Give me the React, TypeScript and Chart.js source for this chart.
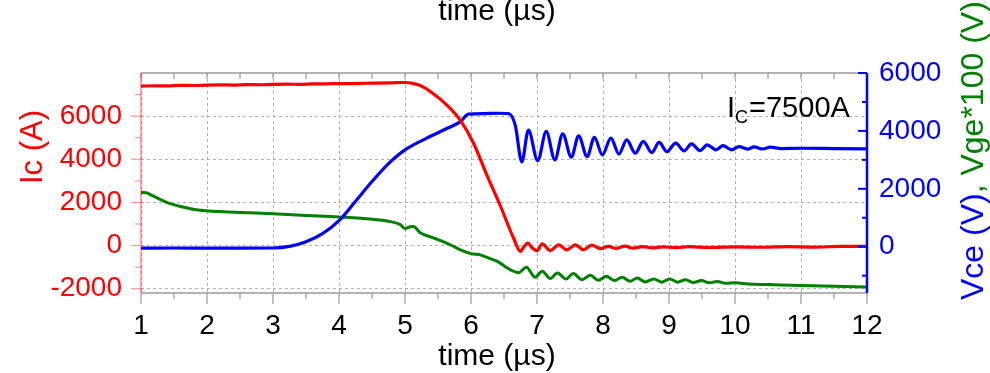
import React, { useEffect, useRef } from "react";
import { Chart, registerables } from "chart.js";

Chart.register(...registerables);

// ---- tick values ----
const xTicks = [1, 2, 3, 4, 5, 6, 7, 8, 9, 10, 11, 12];
const xMinorTicks = [1.5, 2.5, 3.5, 4.5, 5.5, 6.5, 7.5, 8.5, 9.5, 10.5, 11.5];
const icTicks = [-2000, 0, 2000, 4000, 6000];
const icMinorTicks = [-1000, 1000, 3000, 5000, 7000];
const vTicks = [0, 2000, 4000, 6000];
const vMinorTicks = [-1000, 1000, 3000, 5000];

// ---- Ic (A), left axis ----
const icTime = [
  1.0, 1.2, 1.4, 1.6, 1.8, 2.0, 2.2, 2.4, 2.6, 2.8, 3.0, 3.2, 3.4, 3.6, 3.8, 4.0, 4.2, 4.4, 4.6, 4.8,
  5.0, 5.1, 5.23, 5.43, 5.64, 5.84, 6.04, 6.24, 6.44, 6.645, 6.75,
  6.8, 6.86, 6.93, 7.0, 7.08, 7.2, 7.33, 7.45, 7.58, 7.7, 7.83, 7.96, 8.08, 8.2, 8.33, 8.46, 8.6,
  8.75, 8.9, 9.1, 9.3, 9.6, 10.0, 10.4, 10.8, 11.2, 11.6, 12.0,
];
const icValues = [
  7390, 7410, 7400, 7430, 7420, 7440, 7450, 7440, 7460, 7455, 7470, 7480, 7475, 7495, 7500, 7510, 7505, 7525, 7530, 7545,
  7560, 7530, 7420, 7040, 6500, 5800, 4730, 3270, 1880, 340, -270,
  -60, 110, -120, -240, 80, -230, 30, -200, 30, -190, 20, -140, -40, -130, -30, -120, -50,
  -110, -60, -100, -50, -90, -60, -80, -50, -70, -40, -40,
];

// ---- Vce (V), right axis ----
const vceTime = [
  1.0, 1.5, 2.0, 2.5, 3.0, 3.25, 3.5, 3.75, 4.0, 4.25, 4.5, 4.75, 5.0, 5.33, 5.64, 5.84, 5.96,
  6.2, 6.4, 6.57, 6.67, 6.77, 6.87, 7.01, 7.14, 7.27, 7.39,
  7.52, 7.63, 7.76, 7.87, 7.99, 8.12, 8.24, 8.36, 8.49, 8.61, 8.74, 8.85, 8.97, 9.1, 9.23, 9.34,
  9.47, 9.58, 9.71, 9.82, 9.95, 10.06, 10.19, 10.29, 10.42, 10.54, 10.7, 11.0, 11.5, 12.0,
];
const vceValues = [
  -50, -45, -50, -50, -45, 10, 170, 450, 900, 1570, 2250, 2870, 3345, 3750, 4090, 4320, 4580,
  4600, 4610, 4600, 4200, 2930, 4030, 2970, 3980, 3000, 3900,
  3090, 3830, 3110, 3780, 3170, 3750, 3200, 3690, 3230, 3640, 3250, 3600, 3280, 3575, 3310, 3550,
  3320, 3520, 3345, 3490, 3345, 3460, 3370, 3450, 3375, 3440, 3390, 3400, 3390, 3380,
];

// ---- Vge*100 (V), right axis ----
const vgeTime = [
  1.0, 1.08, 1.15, 1.39, 1.6, 1.9, 2.5, 3.0, 3.5, 4.0, 4.5, 4.75, 4.93, 5.0,
  5.08, 5.13, 5.23, 5.4, 5.55, 5.7, 5.85, 6.0, 6.15, 6.3, 6.4, 6.5, 6.6, 6.72, 6.84, 6.97, 7.08,
  7.2, 7.31, 7.44, 7.55, 7.68, 7.81, 7.93, 8.05, 8.17, 8.29, 8.41, 8.52, 8.64, 8.77, 8.89, 9.01,
  9.13, 9.25, 9.37, 9.49, 9.61, 9.73, 9.86, 10.0, 10.2, 10.5, 11.0, 11.5, 12.0,
];
const vgeValues = [
  1870, 1860, 1790, 1530, 1390, 1255, 1185, 1140, 1080, 1025, 950, 880, 760, 630,
  690, 700, 480, 330, 200, 50, -120, -240, -290, -420, -510, -660, -800, -900, -713, -1057, -850,
  -1100, -908, -1115, -930, -1138, -990, -1160, -1023, -1170, -1057, -1195, -1080, -1218, -1115, -1225, -1115,
  -1225, -1140, -1235, -1170, -1250, -1200, -1265, -1250, -1290, -1310, -1345, -1370, -1390,
];

const FF = "'Liberation Sans', Arial, Helvetica, sans-serif";
const RED = "#ff0000";
const BLUE = "#0000ff";
const GREEN = "#008000";

const framePlugin = {
  id: "frame",
  afterDatasetsDraw(chart: any) {
    const { ctx, chartArea: ca, scales } = chart;
    const sx = scales.x;
    const sl = scales.y;
    const sr = scales.y2;
    const line = (x1: number, y1: number, x2: number, y2: number) => {
      ctx.beginPath();
      ctx.moveTo(x1, y1);
      ctx.lineTo(x2, y2);
      ctx.stroke();
    };
    ctx.save();
    // top & bottom frame (gray)
    ctx.strokeStyle = "#9a9a9a";
    ctx.lineWidth = 1.5;
    line(ca.left, ca.top, ca.right, ca.top);
    line(ca.left, ca.bottom, ca.right, ca.bottom);
    ctx.lineWidth = 1.2;
    xTicks.forEach((v) => {
      const p = sx.getPixelForValue(v);
      line(p, ca.bottom, p, ca.bottom + 11);
      line(p, ca.top, p, ca.top + 6);
    });
    xMinorTicks.forEach((v) => {
      const p = sx.getPixelForValue(v);
      line(p, ca.bottom, p, ca.bottom + 6);
      line(p, ca.top, p, ca.top + 6);
    });
    // left axis (pale red), ticks outward
    ctx.strokeStyle = "rgba(255,0,0,0.3)";
    ctx.lineWidth = 2.5;
    line(ca.left, ca.top, ca.left, ca.bottom);
    ctx.strokeStyle = "rgba(255,0,0,0.4)";
    ctx.lineWidth = 1.2;
    icTicks.forEach((v) => {
      const p = sl.getPixelForValue(v);
      line(ca.left - 10, p, ca.left, p);
    });
    icMinorTicks.forEach((v) => {
      const p = sl.getPixelForValue(v);
      line(ca.left - 6, p, ca.left, p);
    });
    // right axis (blue), ticks inward
    ctx.strokeStyle = BLUE;
    ctx.lineWidth = 2.5;
    line(ca.right, ca.top, ca.right, ca.bottom);
    ctx.lineWidth = 2;
    vTicks.forEach((v) => {
      const p = sr.getPixelForValue(v);
      line(ca.right - 9, p, ca.right, p);
    });
    vMinorTicks.forEach((v) => {
      const p = sr.getPixelForValue(v);
      line(ca.right - 5, p, ca.right, p);
    });

    // titles
    ctx.textBaseline = "alphabetic";
    ctx.fillStyle = "#000";
    ctx.font = `30px ${FF}`;
    ctx.textAlign = "center";
    const cx = (ca.left + ca.right) / 2 - 7;
    ctx.fillText("time (\u00b5s)", cx, ca.top - 53);
    ctx.fillText("time (\u00b5s)", cx, ca.bottom + 72);

    // left title
    ctx.save();
    ctx.translate(ca.left - 99, ca.top + 74);
    ctx.rotate(-Math.PI / 2);
    ctx.font = `31px ${FF}`;
    ctx.fillStyle = RED;
    ctx.textAlign = "center";
    ctx.fillText("Ic (A)", 0, 0);
    ctx.restore();

    // right title (two colours)
    ctx.save();
    ctx.translate(ca.right + 116, ca.bottom + 7);
    ctx.rotate(-Math.PI / 2);
    ctx.font = `32px ${FF}`;
    ctx.textAlign = "left";
    const p1 = "Vce (V)";
    const p2 = ", Vge*100 (V)";
    ctx.fillStyle = BLUE;
    ctx.fillText(p1, 0, 0);
    const w1 = ctx.measureText(p1).width;
    ctx.fillStyle = GREEN;
    ctx.fillText(p2, w1, 0);
    ctx.restore();

    // annotation I_C=7500A
    ctx.fillStyle = "#000";
    ctx.textAlign = "left";
    let ax = ca.right - 140;
    const ay = ca.top + 44;
    ctx.font = `29px ${FF}`;
    ctx.fillText("I", ax, ay);
    ax += ctx.measureText("I").width;
    ctx.font = `18px ${FF}`;
    ctx.fillText("C", ax, ay + 6);
    ax += ctx.measureText("C").width + 1;
    ctx.font = `29px ${FF}`;
    ctx.fillText("=7500A", ax, ay);

    ctx.restore();
  },
};

const plain = (v: any) => String(v);

export default function App() {
  const ref = useRef<HTMLCanvasElement | null>(null);

  useEffect(() => {
    if (!ref.current) return;
    const toXY = (ts: number[], vs: number[]) => ts.map((t, i) => ({ x: t, y: vs[i] }));
    const chart = new Chart(ref.current, {
      type: "line",
      data: {
        datasets: [
          {
            label: "Ic",
            data: toXY(icTime, icValues),
            borderColor: RED,
            borderWidth: 3.2,
            pointRadius: 0,
            yAxisID: "y",
            cubicInterpolationMode: "monotone",
          },
          {
            label: "Vce",
            data: toXY(vceTime, vceValues),
            borderColor: BLUE,
            borderWidth: 3.2,
            pointRadius: 0,
            yAxisID: "y2",
            cubicInterpolationMode: "monotone",
          },
          {
            label: "Vge*100",
            data: toXY(vgeTime, vgeValues),
            borderColor: GREEN,
            borderWidth: 3,
            pointRadius: 0,
            yAxisID: "y2",
            cubicInterpolationMode: "monotone",
          },
        ],
      },
      options: {
        responsive: false,
        animation: false,
        layout: { padding: { top: 73, left: 0, right: 0, bottom: 0 } },
        plugins: { legend: { display: false }, tooltip: { enabled: false }, title: { display: false } },
        scales: {
          x: {
            type: "linear",
            min: 1,
            max: 12,
            afterBuildTicks: (s: any) => {
              s.ticks = xTicks.map((v) => ({ value: v }));
            },
            afterFit: (s: any) => {
              s.height = 80;
            },
            ticks: {
              font: { size: 28, family: FF },
              color: "#000",
              padding: 16,
              autoSkip: false,
              maxRotation: 0,
              minRotation: 0,
              callback: plain,
            },
            grid: { color: "#b0b0b0", lineWidth: 1, drawTicks: false, borderDash: [3, 3] } as any,
            border: { display: false, dash: [3, 3] },
          },
          y: {
            type: "linear",
            position: "left",
            min: -2200,
            max: 8000,
            afterBuildTicks: (s: any) => {
              s.ticks = icTicks.map((v) => ({ value: v }));
            },
            afterFit: (s: any) => {
              s.width = 141;
            },
            ticks: {
              font: { size: 28, family: FF },
              color: RED,
              padding: 19,
              autoSkip: false,
              callback: plain,
            },
            grid: { color: "#b0b0b0", lineWidth: 1, drawTicks: false, borderDash: [3, 3] } as any,
            border: { display: false, dash: [3, 3] },
          },
          y2: {
            type: "linear",
            position: "right",
            min: -1600,
            max: 6000,
            afterBuildTicks: (s: any) => {
              s.ticks = vTicks.map((v) => ({ value: v }));
            },
            afterFit: (s: any) => {
              s.width = 123;
            },
            ticks: {
              font: { size: 28, family: FF },
              color: BLUE,
              padding: 12,
              autoSkip: false,
              callback: plain,
            },
            grid: { display: false, drawTicks: false },
            border: { display: false },
          },
        },
      },
      plugins: [framePlugin],
    });
    return () => chart.destroy();
  }, []);

  return (
    <div style={{ position: "absolute", left: 0, top: 0, width: 990, height: 373, background: "#fff" }}>
      <canvas ref={ref} width={990} height={373} style={{ display: "block" }} />
    </div>
  );
}
